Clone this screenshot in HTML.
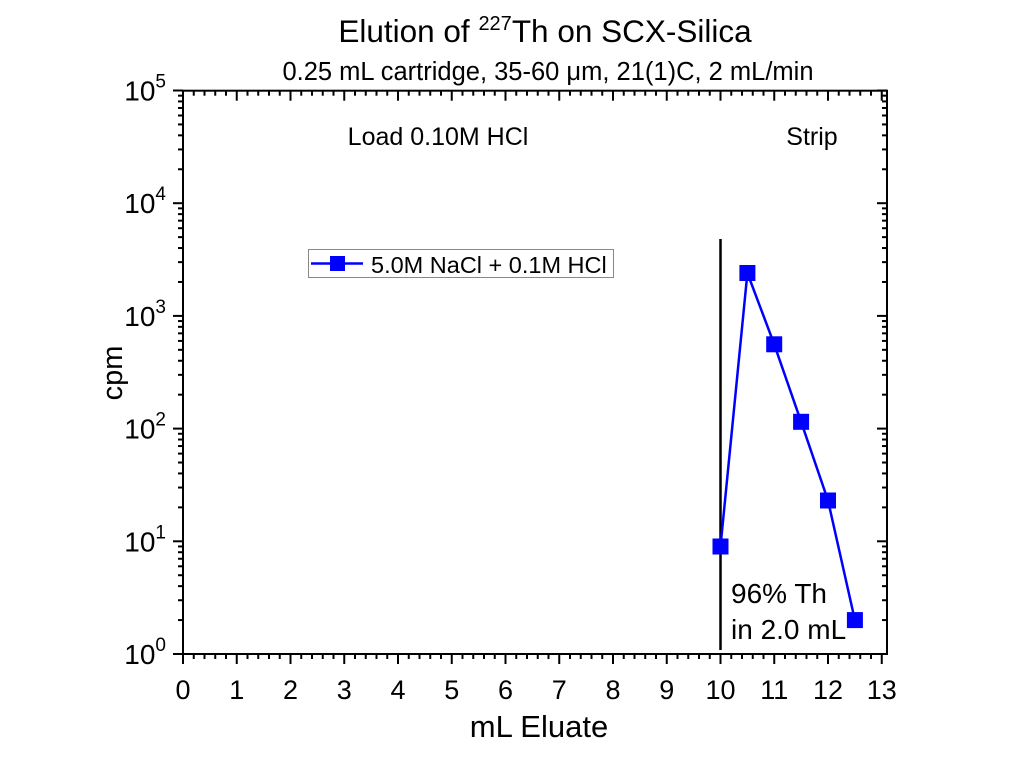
<!DOCTYPE html>
<html><head><meta charset="utf-8"><style>
html,body{margin:0;padding:0;background:#fff;}
svg{display:block;font-family:"Liberation Sans",Arial,sans-serif;}
</style></head><body>
<svg id="s" width="1024" height="784" viewBox="0 0 1024 784" xmlns="http://www.w3.org/2000/svg">
<rect width="1024" height="784" fill="#fff"/>
<text x="545" y="42" font-size="31.5" text-anchor="middle">Elution of <tspan font-size="20" dy="-12">227</tspan><tspan dy="12">Th on SCX-Silica</tspan></text>
<text x="548" y="80" font-size="25.5" text-anchor="middle">0.25 mL cartridge, 35-60 μm, 21(1)C, 2 mL/min</text>
<text x="438" y="145" font-size="25" text-anchor="middle">Load 0.10M HCl</text>
<text x="812" y="145" font-size="25" text-anchor="middle">Strip</text>
<g id="ax" stroke="#000" stroke-width="2" fill="none">
<rect x="183" y="90.7" width="704" height="563.3"/>
</g>
<g id="yl" font-size="28" text-anchor="end"></g>
<g id="xl" font-size="27" text-anchor="middle"></g>
<text x="539" y="737" font-size="31" text-anchor="middle">mL Eluate</text>
<text transform="translate(122,373) rotate(-90)" font-size="29" text-anchor="middle">cpm</text>
<line x1="720.5" y1="239" x2="720.5" y2="650" stroke="#000" stroke-width="2.5"/>
<polyline points="720.5,546.5 747.4,273 774.2,344.3 801.1,421.8 828,500.5 854.9,620.1" fill="none" stroke="#0000ff" stroke-width="2.5"/>
<g fill="#0000ff">
<rect x="712.5" y="538.5" width="16" height="16"/>
<rect x="739.4" y="265" width="16" height="16"/>
<rect x="766.2" y="336.3" width="16" height="16"/>
<rect x="793.1" y="413.8" width="16" height="16"/>
<rect x="820" y="492.5" width="16" height="16"/>
<rect x="846.9" y="612.1" width="16" height="16"/>
</g>
<text x="731" y="603" font-size="28">96% Th</text>
<text x="731" y="639" font-size="28">in 2.0 mL</text>
<rect x="308.5" y="249.5" width="305" height="28" fill="#fff" stroke="#888" stroke-width="1"/>
<line x1="311" y1="263.5" x2="363" y2="263.5" stroke="#0000ff" stroke-width="2.5"/>
<rect x="330" y="256" width="15" height="15" fill="#0000ff"/>
<text x="371" y="273" font-size="23.5">5.0M NaCl + 0.1M HCl</text>
</svg>
<script>
var NS="http://www.w3.org/2000/svg",s=document.getElementById('ax');
function L(x1,y1,x2,y2,w){var l=document.createElementNS(NS,'line');l.setAttribute('x1',x1);l.setAttribute('y1',y1);l.setAttribute('x2',x2);l.setAttribute('y2',y2);l.setAttribute('stroke-width',w||2);s.appendChild(l);}
var x0=183,dx=53.75,yb=654,dy=112.7;
for(var i=0;i<=65;i++){var v=i*0.2;if(v>13.05)break;var x=x0+v*dx;var maj=(i%5==0);
 L(x,yb,x,yb+(maj?10:5));L(x,90.7,x,90.7+(maj?10:5));
 if(maj){var t=document.createElementNS(NS,'text');t.setAttribute('x',x);t.setAttribute('y',699);t.textContent=(i/5);document.getElementById('xl').appendChild(t);}}
for(var d=0;d<=5;d++){var y=yb-d*dy;L(x0-10,y,x0,y);L(887,y,877,y);
 var e=document.createElementNS(NS,'text');e.setAttribute('x',166);e.setAttribute('y',y+10);e.textContent='10';
 var ts=document.createElementNS(NS,'tspan');ts.setAttribute('dy',-13);ts.setAttribute('font-size',19);ts.textContent=''+d;e.appendChild(ts);
 document.getElementById('yl').appendChild(e);
 if(d<5)for(var m=2;m<=9;m++){var yy=y-Math.log10(m)*dy;L(x0-5,yy,x0,yy);L(887,yy,882,yy);}}
</script>
</body></html>
